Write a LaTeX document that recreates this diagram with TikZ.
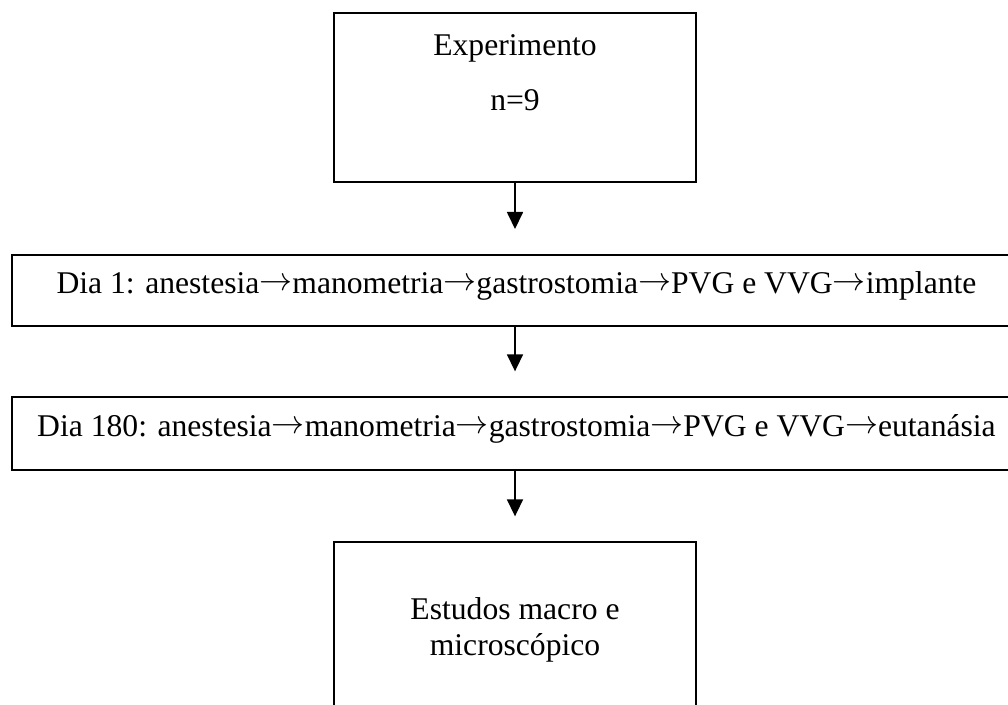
\documentclass[tikz,border=0pt]{standalone}
\usepackage{fontspec}
\setmainfont{Liberation Serif}
\usetikzlibrary{arrows.meta}
\newcommand\thento{\raisebox{.08em}{$\rightarrow$}}
\begin{document}
\begin{tikzpicture}[x=0.3636pt,y=-0.3636pt,
        font=\fontsize{11.5}{13.2}\selectfont,
        line width=0.7pt,
        tallbox/.style={draw,minimum width=131.6pt,minimum height=61.4pt,inner sep=0},
        widebox/.style={draw,minimum width=366.9pt,minimum height=26pt,inner sep=0},
        boxtext/.style={anchor=base,inner sep=0},
        flowarrow/.style={-{Triangle[length=6.2pt,width=5.8pt]},shorten >=9pt},
        ]
        \useasboundingbox (0,0) rectangle (1008,704);
        \clip (0,0) rectangle (1008,704);

        % boxes
        \node[tallbox] (exp) at (515,97.5) {};
        \node[widebox] (dia1) at (516.5,290.5) {};
        \node[widebox,minimum height=26.5pt] (dia180) at (516.5,433.5) {};
        \node[tallbox] (est) at (515,626.5) {};

        % texts
        \node[boxtext] (expname) at (515,55) {Experimento};
        \node[boxtext] (expn) at (515,110) {n=9};
        \node[boxtext] (dia1text) at (516.5,293) {Dia 1: anestesia\thento manometria\thento gastrostomia\thento PVG e VVG\thento implante};
        \node[boxtext] (dia180text) at (516.5,436) {Dia 180: anestesia\thento manometria\thento gastrostomia\thento PVG e VVG\thento eutanásia};
        \node[boxtext] (esttext1) at (515,619) {Estudos macro e};
        \node[boxtext] (esttext2) at (515,655) {microscópico};

        \draw[flowarrow] (exp.south) -- (exp.south |- dia1.north);
        \draw[flowarrow] (exp.south |- dia1.south) -- (exp.south |- dia180.north);
        \draw[flowarrow] (exp.south |- dia180.south) -- (est.north);
\end{tikzpicture}
\end{document}
